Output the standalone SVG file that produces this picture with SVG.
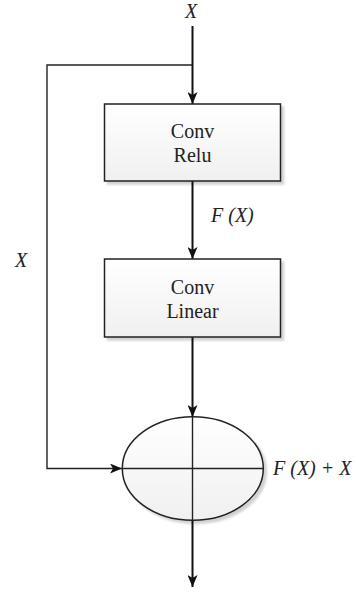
<svg xmlns="http://www.w3.org/2000/svg" width="356" height="593" viewBox="0 0 356 593">
<defs>
<linearGradient id="g" x1="0" y1="0" x2="0" y2="1">
<stop offset="0" stop-color="#ffffff"/>
<stop offset="1" stop-color="#f0f0f0"/>
</linearGradient>
<marker id="ah" viewBox="0 0 12 10" refX="12" refY="5" markerWidth="12" markerHeight="10" markerUnits="userSpaceOnUse" orient="auto">
<path d="M0,0 L12,5 L0,10 L3,5 Z" fill="#111"/>
</marker>
<filter id="sh" x="-10%" y="-10%" width="130%" height="130%">
<feGaussianBlur in="SourceAlpha" stdDeviation="1"/>
<feOffset dx="3" dy="3"/>
<feComponentTransfer><feFuncA type="linear" slope="0.18"/></feComponentTransfer>
<feMerge><feMergeNode/><feMergeNode in="SourceGraphic"/></feMerge>
</filter>
</defs>
<style>
.box{fill:url(#g);stroke:#222;stroke-width:1.5}
.t{font-family:"Liberation Serif",serif;font-size:20px;fill:#222;text-anchor:middle}
.i{font-family:"Liberation Serif",serif;font-size:20px;font-style:italic;fill:#222}
.main{stroke:#111;stroke-width:2;fill:none}
.thin{stroke:#222;stroke-width:1.4;fill:none}
</style>
<g id="connectors">
<line class="main" x1="192.5" y1="26" x2="192.5" y2="104" marker-end="url(#ah)"/>
<polyline class="thin" points="192.5,65 47,65 47,468.5 122,468.5" marker-end="url(#ah)"/>
<line class="main" x1="192.5" y1="181" x2="192.5" y2="259" marker-end="url(#ah)"/>
<line class="main" x1="192.5" y1="337" x2="192.5" y2="417" marker-end="url(#ah)"/>
<line class="main" x1="192.5" y1="520" x2="192.5" y2="587" marker-end="url(#ah)"/>
</g>
<g id="input-label"><text class="i" x="185" y="18">X</text></g>
<g id="skip-label"><text class="i" x="15" y="267">X</text></g>
<g id="conv-relu">
<rect class="box" x="104.5" y="104" width="176" height="77" filter="url(#sh)"/>
<text class="t" x="192.5" y="138">Conv</text>
<text class="t" x="192.5" y="162">Relu</text>
</g>
<g id="fx-label"><text class="i" x="211" y="222">F (X)</text></g>
<g id="conv-linear">
<rect class="box" x="104.5" y="259" width="176" height="78" filter="url(#sh)"/>
<text class="t" x="192.5" y="293.5">Conv</text>
<text class="t" x="192.5" y="317.5">Linear</text>
</g>
<g id="sum">
<ellipse class="box" cx="192.8" cy="468.5" rx="70.5" ry="51.7" filter="url(#sh)"/>
<line class="thin" x1="122.3" y1="468.5" x2="263.3" y2="468.5"/>
<line class="thin" x1="192.5" y1="416.8" x2="192.5" y2="520.2"/>
</g>
<g id="sum-label"><text class="i" x="273" y="475">F (X) + X</text></g>
</svg>
